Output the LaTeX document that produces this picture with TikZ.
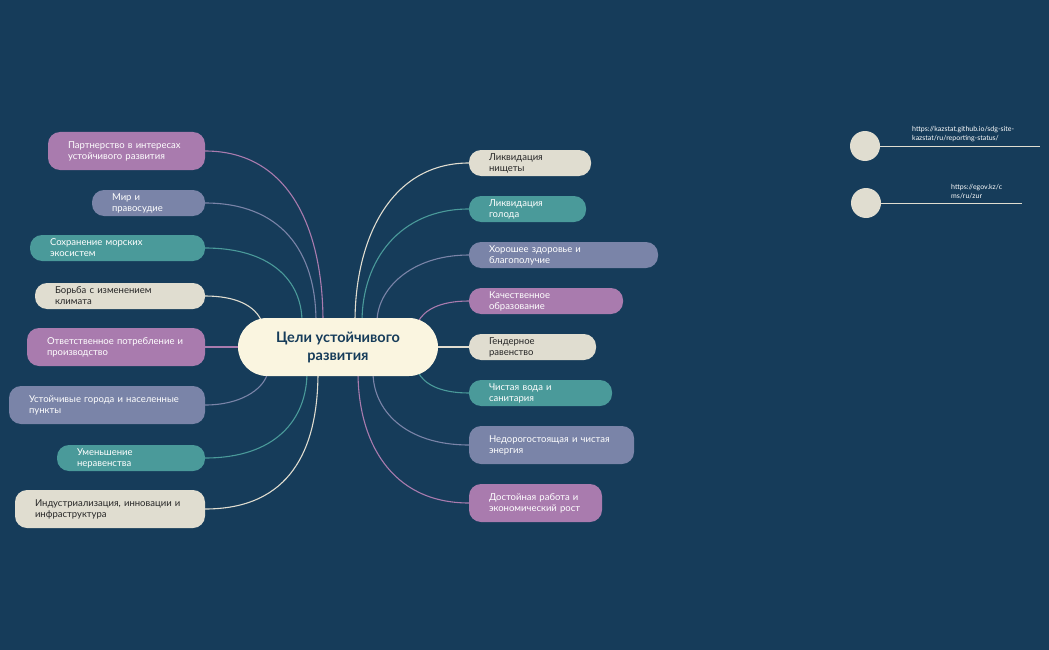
\documentclass[tikz,border=0pt]{standalone}
\usepackage{fontspec}
\setmainfont{Lato}
\definecolor{bg}{HTML}{163C5A}
\definecolor{cpink}{HTML}{A97BAE}
\definecolor{cslate}{HTML}{7A84A8}
\definecolor{cteal}{HTML}{4A9A9A}
\definecolor{cbeige}{HTML}{E0DDD0}
\definecolor{ccenter}{HTML}{FAF5E0}
\begin{document}
\begin{tikzpicture}[x=1pt,y=-1pt,
  box/.style={rounded corners=12pt,inner sep=0pt,font=\fontsize{9.5}{11}\selectfont,align=left,text=white},
  pink/.style={box,fill=cpink},
  slate/.style={box,fill=cslate},
  teal/.style={box,fill=cteal},
  beige/.style={box,fill=cbeige,text=black!85},
  link/.style={line width=1.1pt},
]
\fill[bg] (0,0) rectangle (1049,650);
\useasboundingbox (0,0) rectangle (1049,650);
% helper: node with given left, right, center y, height
\newcommand{\mynode}[7]{% name style left right y h text
  \node[#2,minimum width={#4-#3},minimum height=#6,text width={#4-#3-40},anchor=center] (#1) at ({(#3+#4)/2},#5) {#7};}
% connectors first (drawn under nodes)
\coordinate (c) at (338,347);
% left
\draw[link,cpink]  (205,151) .. controls (290,151) and (323,230) .. (323,322);
\draw[link,cslate] (205,203) .. controls (280,203) and (316,250) .. (316,322);
\draw[link,cteal]  (205,248) .. controls (270,248) and (302,280) .. (302,322);
\draw[link,cbeige] (205,296) .. controls (235,296) and (255,305) .. (262,322);
\draw[link,cpink]  (205,347) -- (245,347);
\draw[link,cslate] (205,405) .. controls (240,405) and (262,390) .. (267,375);
\draw[link,cteal]  (205,458) .. controls (275,458) and (307,420) .. (307,372);
\draw[link,cbeige] (205,509) .. controls (290,509) and (318,450) .. (318,372);
% right
\draw[link,cbeige] (469,163) .. controls (390,163) and (355,240) .. (355,322);
\draw[link,cteal]  (469,209) .. controls (400,209) and (362,260) .. (362,322);
\draw[link,cslate] (469,255) .. controls (410,255) and (377,290) .. (377,322);
\draw[link,cpink]  (469,301) .. controls (440,301) and (424,310) .. (418,322);
\draw[link,cbeige] (469,347) -- (430,347);
\draw[link,cteal]  (469,393) .. controls (440,393) and (424,384) .. (418,372);
\draw[link,cslate] (469,445) .. controls (405,445) and (373,410) .. (373,372);
\draw[link,cpink]  (469,503) .. controls (390,503) and (358,440) .. (358,372);
% center
\node[rounded corners=29pt,fill=ccenter,minimum width=200pt,minimum height=58pt,align=center,
  font=\bfseries\fontsize{14.5}{18}\selectfont,text=bg] (center) at (338,347) {Цели устойчивого\\развития};
% left nodes
\mynode{l1}{pink}{48}{205}{151}{38}{Партнерство в интересах\\устойчивого развития}
\mynode{l2}{slate}{92}{205}{203}{26}{Мир и правосудие}
\mynode{l3}{teal}{30}{205}{248}{26}{Сохранение морских экосистем}
\mynode{l4}{beige}{35}{205}{296}{26}{Борьба с изменением климата}
\mynode{l5}{pink}{27}{205}{347}{38}{Ответственное потребление и\\производство}
\mynode{l6}{slate}{9}{205}{405}{38}{Устойчивые города и населенные\\пункты}
\mynode{l7}{teal}{57}{205}{458}{26}{Уменьшение неравенства}
\mynode{l8}{beige}{15}{205}{509}{38}{Индустриализация, инновации и\\инфраструктура}
% right nodes
\mynode{r1}{beige}{469}{591}{163}{26}{Ликвидация нищеты}
\mynode{r2}{teal}{469}{586}{209}{26}{Ликвидация голода}
\mynode{r3}{slate}{469}{658}{255}{26}{Хорошее здоровье и благополучие}
\mynode{r4}{pink}{469}{623}{301}{26}{Качественное образование}
\mynode{r5}{beige}{469}{596}{347}{26}{Гендерное равенство}
\mynode{r6}{teal}{469}{612}{393}{26}{Чистая вода и санитария}
\mynode{r7}{slate}{469}{634}{445}{38}{Недорогостоящая и чистая\\энергия}
\mynode{r8}{pink}{469}{602}{503}{38}{Достойная работа и\\экономический рост}
% links
\node[circle,fill=cbeige,minimum size=30pt,inner sep=0pt] (k1) at (865,146) {};
\node[circle,fill=cbeige,minimum size=30pt,inner sep=0pt] (k2) at (866,203) {};
\coordinate (k1e) at (1040,146);
\coordinate (k2e) at (1022,203);
\draw[cbeige,line width=0.8pt] (k1.east) -- (k1e);
\draw[cbeige,line width=0.8pt] (k2.east) -- (k2e);
\node[anchor=south west,inner sep=0pt,align=left,text=white,font=\fontsize{7}{9}\selectfont] (t1) at (912,142) {https://kazstat.github.io/sdg-site-\\kazstat/ru/reporting-status/};
\node[anchor=south west,inner sep=0pt,align=left,text=white,font=\fontsize{7}{9}\selectfont] (t2) at (951,199) {https://egov.kz/c\\ms/ru/zur};
\end{tikzpicture}
\end{document}
